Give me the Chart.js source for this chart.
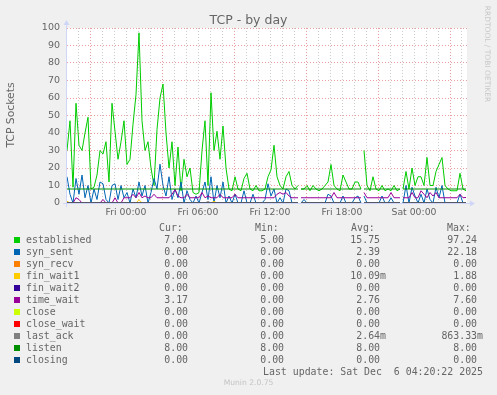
<!DOCTYPE html>
<html>
<head>
<meta charset="utf-8">
<title>TCP - by day</title>
<script src="https://cdn.jsdelivr.net/npm/chart.js@4.4.1/dist/chart.umd.min.js"></script>
<style>
    body { margin: 0; background: #f0f0f0; }
    #wrap { position: relative; width: 497px; height: 395px; background: #f0f0f0; overflow: hidden; }
    #chart { position: absolute; left: 0; top: 0; }
    .txt { position: absolute; white-space: pre; color: #666; font-family: 'DejaVu Sans', sans-serif; }
    .mono { position: absolute; white-space: pre; color: #666; font-family: 'DejaVu Sans Mono', monospace; font-size: 9.9px; line-height: 12px; }
    .box { position: absolute; width: 6px; height: 6px; }
</style>
</head>
<body>
<div id="wrap">
    <canvas id="chart" width="497" height="395"></canvas>
    <div class="txt" style="left:0; top:12px; width:497px; text-align:center; font-size:12.5px; line-height:15px;">TCP - by day</div>
    <div class="txt" style="left:-49px; top:108px; width:120px; text-align:center; font-size:10.8px; line-height:14px; transform:rotate(-90deg);">TCP Sockets</div>
    <div class="txt" style="left:427px; top:48.5px; width:120px; text-align:center; font-size:7.5px; line-height:10px; color:#c8c8c8; transform:rotate(90deg);">RRDTOOL / TOBI OETIKER</div>
    <div id="legend"></div>
    <div class="mono" style="right:14px; top:365.5px;">Last update: Sat Dec  6 04:20:22 2025</div>
    <div class="txt" style="left:0; top:378px; width:497px; text-align:center; font-size:7.6px; line-height:10px; color:#c4c4c4;">Munin 2.0.75</div>
</div>
<script>
// time axis: hours relative to Fri 00:00, one sample every 15 minutes
const startHour = -59 / 12;
const endHour = 341 / 12;
const stepHours = 0.25;
const gapHours = [14.54, 19.79, 23.04];   // unknown data (line breaks)

const tickHours = [0, 6, 12, 18, 24];
const tickLabels = ['Fri 00:00', 'Fri 06:00', 'Fri 12:00', 'Fri 18:00', 'Sat 00:00'];

const seriesNames = ['established', 'syn_sent', 'syn_recv', 'fin_wait1', 'fin_wait2', 'time_wait',
    'close', 'close_wait', 'last_ack', 'listen', 'closing'];
const seriesColors = ['#00CC00', '#0066B3', '#FF8000', '#FFCC00', '#330099', '#990099',
    '#CCFF00', '#FF0000', '#808080', '#008F00', '#00487D'];

const established = [
    30, 47, 9, 57, 33, 30, 40, 49, 8, 9,
    16, 30, 28, 35, 12, 57, 41, 25, 35, 47,
    22, 25, 45, 62, 97.24, 47, 30, 35, 20, 10,
    42, 60, 68, 40, 20, 35, 10, 32, 7, 25,
    15, 20, 6, 5, 6, 30, 47, 10, 63, 30,
    41, 25, 44, 20, 8, 7, 15, 8, 7, 14,
    17, 8, 7, 10, 7, 7, 8, 15, 19, 33,
    15, 10, 8, 15, 18, 10, 8, 10, 8, 8,
    10, 7, 10, 8, 7, 8, 10, 12, 22, 10,
    8, 7, 16, 12, 8, 8, 12, 12, 8, 30,
    10, 7, 15, 8, 7, 10, 7, 8, 7, 10,
    7, 8, 8, 18, 8, 20, 10, 15, 15, 10,
    26, 10, 10, 18, 22, 26, 10, 8, 7, 7,
    7, 17, 8, 7
];

const synSent = [
    15, 5, 0, 14, 5, 16, 3, 10, 0, 8,
    2, 12, 11, 2, 0, 10, 11, 2, 10, 3,
    6, 0, 8, 3, 12, 4, 10, 0, 6, 14,
    8, 22.18, 10, 4, 15, 2, 8, 3, 12, 0,
    7, 2, 0, 4, 0, 6, 12, 2, 15, 0,
    10, 3, 12, 0, 4, 0, 5, 0, 0, 7,
    0, 0, 5, 0, 0, 0, 2, 11, 4, 8,
    0, 3, 0, 8, 7, 0, 0, 0, 0, 2,
    0, 0, 0, 0, 0, 0, 0, 5, 4, 0,
    0, 0, 4, 0, 0, 0, 3, 4, 0, 4,
    0, 0, 0, 0, 0, 4, 0, 0, 3, 0,
    0, 0, 0, 10, 0, 9, 4, 0, 5, 0,
    8, 2, 0, 9, 3, 10, 0, 0, 0, 0,
    0, 5, 0, 0
];

const timeWait = [
    0, 0, 0, 3, 2, 0, 0, 0, 0, 0,
    0, 0, 2, 0, 0, 0, 3, 0, 0, 3,
    3, 3, 5, 3, 6, 3, 4, 3, 3, 5,
    3, 3, 3, 3, 3, 5, 7.6, 4, 3, 3,
    5, 3, 3, 3, 3, 6, 3, 4, 3, 3,
    3, 5, 3, 3, 3, 3, 5, 3, 3, 3,
    3, 3, 3, 3, 3, 3, 3, 3, 3, 3,
    5, 6, 5, 6, 4, 3, 3, 3, 3, 3,
    3, 3, 3, 3, 3, 3, 3, 3, 3, 6,
    3, 3, 3, 3, 3, 3, 3, 3, 3, 6,
    3, 3, 3, 3, 3, 3, 3, 3, 6, 3,
    3, 3, 3, 3, 3, 6, 3, 3, 7, 5,
    3, 6, 4, 6, 3, 3, 3, 3, 3, 3,
    3, 5, 3, 3.17
];

// mostly-zero series: [sample index, value]
const finWait1Spikes = [[0, 1.0], [24, 1.88], [49, 1.0]];
const lastAckSpikes = [[47, 0.86]];
const listenLevel = 8;

// legend table (as printed)
const curValues = ['7.00', '0.00', '0.00', '0.00', '0.00', '3.17', '0.00', '0.00', '0.00', '8.00', '0.00'];
const minValues = ['5.00', '0.00', '0.00', '0.00', '0.00', '0.00', '0.00', '0.00', '0.00', '8.00', '0.00'];
const avgValues = ['15.75', '2.39', '0.00', '10.09m', '0.00', '2.76', '0.00', '0.00', '2.64m', '8.00', '0.00'];
const maxValues = ['97.24', '22.18', '0.00', '1.88', '0.00', '7.60', '0.00', '0.00', '863.33m', '8.00', '0.00'];

const sampleCount = established.length;

function flat(level) {
    return new Array(sampleCount).fill(level);
}

function fromSpikes(spikes) {
    const arr = flat(0);
    spikes.forEach(s => { arr[s[0]] = s[1]; });
    return arr;
}

function buildPoints(values) {
    const pts = values.map((v, i) => ({ x: startHour + i * stepHours, y: v }));
    gapHours.forEach(g => pts.push({ x: g, y: null }));
    pts.sort((a, b) => a.x - b.x);
    return pts;
}

const seriesValues = [
    established, synSent, flat(0), fromSpikes(finWait1Spikes), flat(0), timeWait,
    flat(0), flat(0), fromSpikes(lastAckSpikes), flat(listenLevel), flat(0)
];

const datasets = seriesNames.map((name, i) => ({
    label: name,
    data: buildPoints(seriesValues[i]),
    borderColor: seriesColors[i],
    backgroundColor: seriesColors[i],
    borderWidth: 1,
    pointRadius: 0,
    tension: 0,
    spanGaps: false,
    order: seriesNames.length - i   // later series on top, like rrdtool
}));

const minorGrid = 'rgba(143, 143, 143, 0.45)';
const majorGrid = 'rgba(222, 79, 79, 0.55)';
const axisColor = '#CFD6F8';

const canvasBg = {
    id: 'canvasBg',
    beforeDraw(chart) {
        const { ctx, chartArea: a } = chart;
        ctx.save();
        ctx.fillStyle = '#ffffff';
        ctx.fillRect(a.left, a.top, a.right - a.left, a.bottom - a.top);
        ctx.restore();
    }
};

// rrdtool style axes with arrows, painted over the data
const axisArrows = {
    id: 'axisArrows',
    afterDatasetsDraw(chart) {
        const { ctx, chartArea: a } = chart;
        ctx.save();
        ctx.strokeStyle = axisColor;
        ctx.fillStyle = axisColor;
        ctx.lineWidth = 1;
        ctx.beginPath();
        ctx.moveTo(a.left - 4, a.bottom + 0.5);
        ctx.lineTo(a.right + 4, a.bottom + 0.5);
        ctx.moveTo(a.left - 0.5, a.bottom + 4);
        ctx.lineTo(a.left - 0.5, a.top - 4);
        ctx.stroke();
        ctx.beginPath();
        ctx.moveTo(a.right + 3, a.bottom - 2.5);
        ctx.lineTo(a.right + 8, a.bottom + 0.5);
        ctx.lineTo(a.right + 3, a.bottom + 3.5);
        ctx.closePath();
        ctx.fill();
        ctx.beginPath();
        ctx.moveTo(a.left - 3.5, a.top - 3);
        ctx.lineTo(a.left - 0.5, a.top - 8);
        ctx.lineTo(a.left + 2.5, a.top - 3);
        ctx.closePath();
        ctx.fill();
        ctx.restore();
    }
};

new Chart(document.getElementById('chart'), {
    type: 'line',
    data: { datasets: datasets },
    options: {
        responsive: false,
        animation: false,
        devicePixelRatio: 1,
        parsing: true,
        layout: { padding: { left: 0, top: 28, right: 30, bottom: 172 } },
        plugins: {
            legend: { display: false },
            tooltip: { enabled: false },
            title: { display: false }
        },
        scales: {
            x: {
                type: 'linear',
                min: startHour,
                max: endHour,
                afterFit: s => { s.height = 20; },
                border: { display: false, dash: [1, 2] },
                grid: {
                    drawTicks: false,
                    lineWidth: 1,
                    color: c => {
                        const v = c.tick ? c.tick.value : 0;
                        return (((v % 6) + 6) % 6 === 3) ? majorGrid : minorGrid;
                    }
                },
                ticks: {
                    stepSize: 1,
                    autoSkip: false,
                    maxRotation: 0,
                    includeBounds: false,
                    padding: 4,
                    color: '#666',
                    font: { family: 'DejaVu Sans', size: 9.3 },
                    callback: v => {
                        const idx = tickHours.indexOf(v);
                        return idx >= 0 ? tickLabels[idx] : '';
                    }
                }
            },
            y: {
                min: 0,
                max: 100,
                afterFit: s => { s.width = 67; },
                border: { display: false, dash: [1, 2] },
                grid: {
                    drawTicks: false,
                    lineWidth: 1,
                    color: c => {
                        const v = c.tick ? c.tick.value : 0;
                        return v % 10 === 0 ? majorGrid : minorGrid;
                    }
                },
                ticks: {
                    stepSize: 5,
                    padding: 7,
                    color: '#666',
                    font: { family: 'DejaVu Sans', size: 9.5 },
                    callback: v => (v % 10 === 0 ? String(v) : '')
                }
            }
        }
    },
    plugins: [canvasBg, axisArrows]
});

// text legend, rrdtool style
const legend = document.getElementById('legend');
const headerTop = 221.5;
const rowTop = 233.5;
const colRight = [303, 207, 111, 14];   // right edges (from page right) of Cur, Min, Avg, Max
const headers = ['Cur:', 'Min:', 'Avg:', 'Max:'];
const headerLeft = [159, 255, 351, 447];

headers.forEach((h, j) => {
    const d = document.createElement('div');
    d.className = 'mono';
    d.style.left = headerLeft[j] + 'px';
    d.style.top = headerTop + 'px';
    d.textContent = h;
    legend.appendChild(d);
});

function valueText(v) {
    return /[a-z]$/i.test(v) ? v : v + ' ';
}

seriesNames.forEach((name, i) => {
    const top = rowTop + i * 12;
    const box = document.createElement('div');
    box.className = 'box';
    box.style.left = '14px';
    box.style.top = (top + 3) + 'px';
    box.style.background = seriesColors[i];
    legend.appendChild(box);

    const lbl = document.createElement('div');
    lbl.className = 'mono';
    lbl.style.left = '26px';
    lbl.style.top = top + 'px';
    lbl.textContent = name;
    legend.appendChild(lbl);

    [curValues[i], minValues[i], avgValues[i], maxValues[i]].forEach((v, j) => {
        const d = document.createElement('div');
        d.className = 'mono';
        d.style.right = colRight[j] + 'px';
        d.style.top = top + 'px';
        d.textContent = valueText(v);
        legend.appendChild(d);
    });
});
</script>
</body>
</html>
